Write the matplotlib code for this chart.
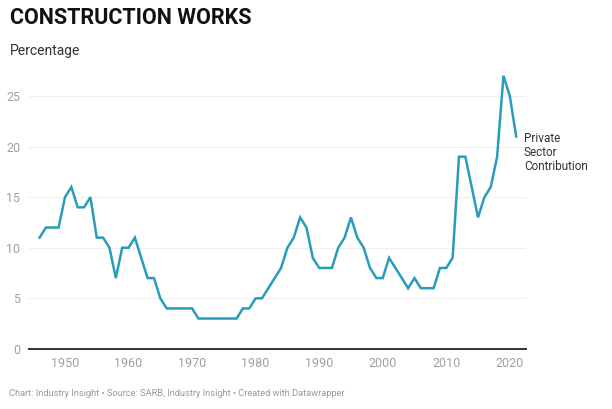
import matplotlib.pyplot as plt
import numpy as np

plt.rcParams['font.family'] = ['Roboto', 'DejaVu Sans']

# Private sector contribution to construction works (%)
years = list(range(1946, 2022))
values = [11, 12, 12, 12, 15, 16, 14, 14, 15, 11,
          11, 10, 7, 10, 10, 11, 9, 7, 7, 5,
          4, 4, 4, 4, 4, 3, 3, 3, 3, 3,
          3, 3, 4, 4, 5, 5, 6, 7, 8, 10,
          11, 13, 12, 9, 8, 8, 8, 10, 11, 13,
          11, 10, 8, 7, 7, 9, 8, 7, 6, 7,
          6, 6, 6, 8, 8, 9, 19, 19, 16, 13,
          15, 16, 19, 27, 25, 21]
yticks = [0, 5, 10, 15, 20, 25]
xticks = [1950, 1960, 1970, 1980, 1990, 2000, 2010, 2020]
series_label = "Private\nSector\nContribution"

fig = plt.figure(figsize=[6.12, 4.09], dpi=100)
ax = fig.add_axes([0.047, 0.147, 0.812, 0.68])

ax.plot(years, values, color="#2a9cbb", linewidth=1.8, solid_joinstyle="miter")

ax.set(xlim=[1944.3, 2022.5], ylim=[0, 27.5], yticks=yticks, xticks=xticks)
ax.grid(True, axis="y", color="#efefef", linewidth=0.8)
ax.set_axisbelow(True)
for side in ["top", "right", "left"]:
    ax.spines[side].set_visible(False)
ax.spines["bottom"].set_color("#333333")
ax.spines["bottom"].set_linewidth(1.4)
ax.tick_params(axis="both", length=0, labelsize=9, colors="#a0a0a0", pad=6)
for lab in ax.get_yticklabels():
    lab.set_horizontalalignment("right")

# label at the end of the line
ax.text(years[-1] + 1.2, values[-1] + 0.4, series_label, fontsize=8.5,
        color="#333333", va="top", ha="left", linespacing=1.1)

fig.text(0.016, 0.955, "CONSTRUCTION WORKS", fontsize=15.5, fontweight="bold",
         color="#111111", va="center")
fig.text(0.016, 0.875, "Percentage", fontsize=10, color="#333333", va="center")
fig.text(0.015, 0.037, "Chart: Industry Insight \u2022 Source: SARB, Industry Insight "
         "\u2022 Created with Datawrapper", fontsize=6.7, color="#999999", va="center")

fig.savefig("out.png", dpi=100)
